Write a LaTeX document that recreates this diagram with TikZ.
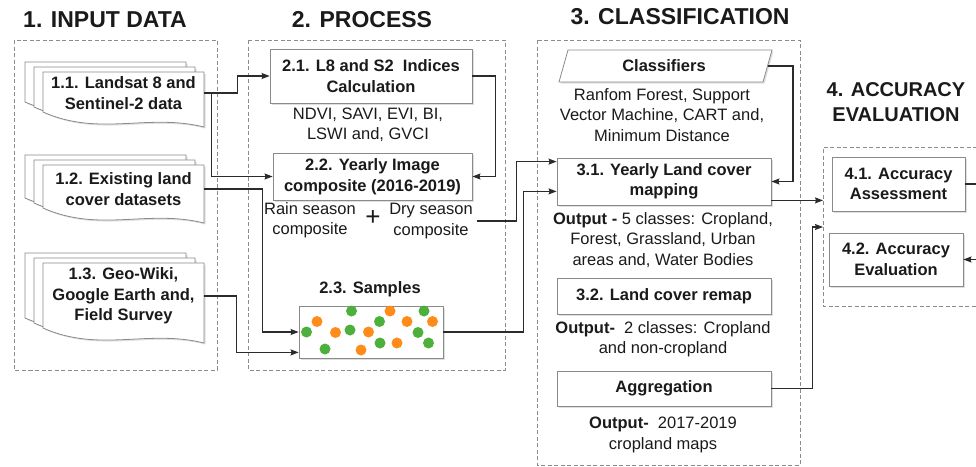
\documentclass[tikz,border=0pt]{standalone}
\usepackage{fontspec}
\setmainfont{Liberation Sans}
\usetikzlibrary{arrows.meta,shadows,calc}
\definecolor{txt}{HTML}{1A1A1A}
\definecolor{ln}{HTML}{2B2B2B}
\definecolor{pan}{HTML}{8C8C8C}
\definecolor{bxc}{HTML}{8A8A8A}
\definecolor{dgreen}{HTML}{4DAF3C}
\definecolor{dorange}{HTML}{FF8C1A}
\newcommand\mydoc[4]{%
  \foreach \o/\p in {18/10,9/5,0/0}{
    \filldraw[pg, shift={(-\o,-\p)}] (#1,#2) -- (#3,#2) -- (#3,#4)
      .. controls ({#1+0.65*(#3-#1)},{#4-14}) and ({#1+0.35*(#3-#1)},{#4+10}) .. (#1,{#4-15}) -- cycle;
  }}
\begin{document}
\begin{tikzpicture}[x=1pt,y=-1pt,
  every node/.style={text=txt, font=\fontsize{16.5}{20.5}\selectfont},
  ttl/.style={font=\fontsize{23}{25}\selectfont\bfseries},
  shd/.style={drop shadow={shadow xshift=1.5pt,shadow yshift=-1.5pt,opacity=0.25}},
  bx/.style={draw=bxc, fill=white, line width=0.8pt, shd, align=center,
    font=\fontsize{16.5}{20.5}\selectfont\bfseries, inner sep=0pt},
  lbl/.style={align=center, inner sep=0pt},
  blbl/.style={align=center, inner sep=0pt, font=\fontsize{16.5}{20.5}\selectfont\bfseries},
  docl/.style={blbl, minimum width=161pt},
  panel/.style={draw=pan, dash pattern=on 4pt off 2.5pt, line width=0.8pt},
  conn/.style={draw=ln, line width=1.1pt},
  arr/.style={conn, -{Stealth[length=8pt,width=6pt,inset=1pt]}},
  pg/.style={draw=bxc, fill=white, line width=0.8pt, shd},
  dot/.style={circle, inner sep=0pt, minimum size=11pt},
]
\useasboundingbox (0,0) rectangle (976,466);
% panels
\draw[panel] (14,40) rectangle (217,370);
\draw[panel] (248,40) rectangle (505,370);
\draw[panel] (537,40) rectangle (800,465);
\draw[panel] (990,147) -- (823,147) -- (823,306) -- (990,306);
% titles
\node[ttl] (t1) at (105,20) {1. INPUT DATA};
\node[ttl] (t2) at (362,20) {2. PROCESS};
\node[ttl] (t3) at (680,17) {3. CLASSIFICATION};
\node[align=center, font=\fontsize{20}{25}\selectfont\bfseries] (t4) at (896,102) {4. ACCURACY\\EVALUATION};
% input documents
\mydoc{43}{72}{204}{127}
\node[docl] (d11) at (123.5,93) {1.1. Landsat 8 and\\Sentinel-2 data};
\mydoc{43}{165}{204}{223}
\node[docl] (d12) at (123.5,189) {1.2. Existing land\\cover datasets};
\mydoc{43}{263}{204}{343}
\node[docl] (d13) at (123.5,296) {1.3. Geo-Wiki,\\Google Earth and,\\Field Survey};
% process
\node[bx, minimum width=202pt, minimum height=54pt] (b21) at (371,76) {2.1. L8 and S2~ Indices\\Calculation};
\node[lbl] (idx) at (368,125) {NDVI, SAVI, EVI, BI,\\LSWI and, GVCI};
\node[bx, minimum width=199pt, minimum height=47pt] (b22) at (372.5,176.5) {2.2. Yearly Image\\composite (2016-2019)};
\node[lbl] (rain) at (310,220) {Rain season\\composite};
\node[inner sep=0pt, font=\fontsize{26}{26}\selectfont] (plus) at (373,218) {+};
\node[lbl, inner sep=4pt] (dry) at (431,221) {Dry season\\composite};
\node[blbl] (slab) at (370,289) {2.3. Samples};
\node[bx, minimum width=144pt, minimum height=52pt] (smp) at (371,332) {};
\foreach \x/\y [count=\i] in {306.5/332,325/349,351.5/311,350/330,379.5/321.5,380/343,424/311,418/332.5,428.5/343}
  \node[dot, fill=dgreen] (g\i) at (\x,\y) {};
\foreach \x/\y [count=\i] in {317/321.5,335.5/332.5,361/350,368.5/332,390/311,397/343,407/321.5,432.5/321.5}
  \node[dot, fill=dorange] (o\i) at (\x,\y) {};
% input connectors
\draw[arr] (d11.east) -- ++(33,0) |- (b21.west);
\draw[arr] (d11.east) -- ++(7.5,0) |- (b22.west);
\draw[arr] (d12.east) -- ++(58,0) |- (smp.west);
\coordinate (smp2) at ($(smp.south west)+(0,-6)$);
\draw[arr] (d13.east) -- ++(32,0) |- (smp2);
\draw[arr] (b21.east) -- ++(23,0) |- (b22.east);
% classification
\filldraw[pg] (559,82) -- (568,50) -- (772,50) -- (763,82) -- cycle;
\node[blbl] (clf) at (664,66) {Classifiers};
\coordinate (clfe) at (767.5,66);
\node[lbl] (clfd) at (662,115) {Ranfom Forest, Support\\Vector Machine, CART and,\\Minimum Distance};
\node[bx, minimum width=214pt, minimum height=47pt] (b31) at (664,181.5) {3.1. Yearly Land cover\\mapping};
\draw[arr] (clfe) -- ++(25.5,0) |- (b31.east);
\coordinate (b31a) at ($(b31.north west)+(0,4)$);
\coordinate (b31b) at ($(b31.south west)+(0,-14)$);
\draw[arr] (dry.east) -- ++(40,0) |- (b31a);
\draw[arr] (smp.east) -- ++(80,0) |- (b31b);
\node[lbl] (o31) at (663,240) {\textbf{Output -} 5 classes: Cropland,\\Forest, Grassland, Urban\\areas and, Water Bodies};
\node[bx, minimum width=214pt, minimum height=36pt] (b32) at (664,296) {3.2. Land cover remap};
\node[lbl] (o32) at (663,339) {\textbf{Output-}~ 2 classes: Cropland\\and non-cropland};
\node[bx, minimum width=214pt, minimum height=35pt] (agg) at (664,388.5) {Aggregation};
\node[lbl] (o33) at (663,435) {\textbf{Output-}~ 2017-2019\\cropland maps};
% accuracy
\node[bx, minimum width=133pt, minimum height=54pt] (b41) at (898.5,184) {4.1. Accuracy\\Assessment};
\node[bx, minimum width=134pt, minimum height=53pt] (b42) at (896,259.5) {4.2. Accuracy\\Evaluation};
\coordinate (p4a) at (823,200);
\coordinate (p4b) at (823,227);
\coordinate (b31o) at ($(b31.south east)+(0,-5)$);
\draw[arr] (b31o) -- (b31o -| p4a);
\draw[arr] (agg.east) -- ++(41,0) |- (p4b);
\coordinate (r41) at (984,184);
\coordinate (r42) at (984,259.5);
\draw[conn] (b41.east) -- (r41);
\draw[arr] (r42) -- (b42.east);
\end{tikzpicture}
\end{document}
